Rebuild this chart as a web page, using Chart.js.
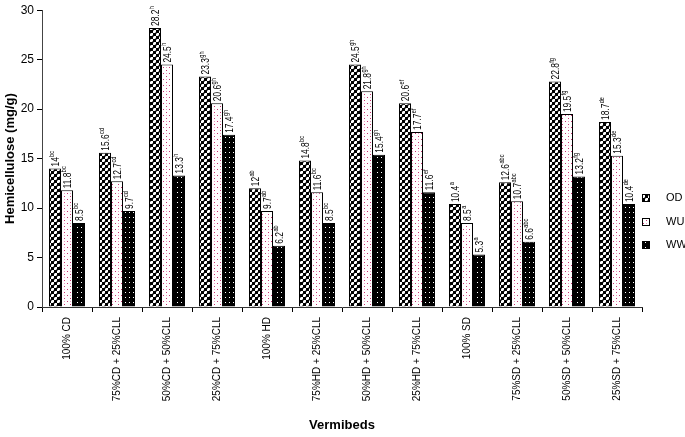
<!DOCTYPE html>
<html>
<head>
<meta charset="utf-8">
<script src="https://cdn.jsdelivr.net/npm/chart.js@4.4.1/dist/chart.umd.min.js"></script>
<style>
html,body{margin:0;padding:0;background:#fff;}
#wrap{width:685px;height:437px;position:relative;}
</style>
</head>
<body>
<div id="wrap"><canvas id="c" width="685" height="437"></canvas></div>
<script>
const categories = ["100% CD","75%CD + 25%CLL","50%CD + 50%CLL","25%CD + 75%CLL","100% HD","75%HD + 25%CLL","50%HD + 50%CLL","25%HD + 75%CLL","100% SD","75%SD + 25%CLL","50%SD + 50%CLL","25%SD + 75%CLL"];
const seriesNames = ["OD","WU","WW"];
const odValues = [14, 15.6, 28.2, 23.3, 12, 14.8, 24.5, 20.6, 10.4, 12.6, 22.8, 18.7];
const wuValues = [11.8, 12.7, 24.5, 20.6, 9.7, 11.6, 21.8, 17.7, 8.5, 10.7, 19.5, 15.3];
const wwValues = [8.5, 9.7, 13.3, 17.4, 6.2, 8.5, 15.4, 11.6, 5.3, 6.6, 13.2, 10.4];
const letters = ["bc","cd","h","gh","ab","bc","gh","ef","a","abc","fg","de"];
const yTicks = [0,5,10,15,20,25,30];

const FONT = '"Liberation Sans", Arial, sans-serif';

function makePattern(w, h, draw) {
  const c = document.createElement('canvas');
  c.width = w; c.height = h;
  const x = c.getContext('2d');
  draw(x);
  return document.getElementById('c').getContext('2d').createPattern(c, 'repeat');
}
const odPattern = makePattern(6, 6, x => {
  x.fillStyle = '#fff'; x.fillRect(0,0,6,6);
  x.fillStyle = '#000'; x.fillRect(0,0,3,3); x.fillRect(3,3,3,3);
  x.fillStyle = '#888'; x.fillRect(3,0,1,1); x.fillRect(5,2,1,1); x.fillRect(0,3,1,1); x.fillRect(2,5,1,1);
});
const wuPattern = makePattern(6, 6, x => {
  x.fillStyle = '#fff'; x.fillRect(0,0,6,6);
  x.fillStyle = '#c83070'; x.fillRect(1,1,1,1); x.fillRect(4,4,1,1);
  x.fillStyle = '#e8a0c0'; x.fillRect(4,1,1,1);
});
const wwPattern = makePattern(4, 5, x => {
  x.fillStyle = '#000'; x.fillRect(0,0,4,5);
  x.fillStyle = '#fff'; x.fillRect(1,2,1,1);
});
const patterns = [odPattern, wuPattern, wwPattern];

const labelPlugin = {
  id: 'barLabels',
  afterDatasetsDraw(chart) {
    const ctx = chart.ctx;
    chart.data.datasets.forEach((ds, i) => {
      const meta = chart.getDatasetMeta(i);
      meta.data.forEach((bar, j) => {
        const v = String(ds.data[j]);
        ctx.save();
        ctx.translate(bar.x + 1, bar.y - 2);
        ctx.rotate(-Math.PI / 2);
        ctx.scale(0.8, 1);
        ctx.fillStyle = '#000';
        ctx.textAlign = 'left';
        ctx.textBaseline = 'middle';
        ctx.font = '10.5px ' + FONT;
        ctx.fillText(v, 0, 0);
        const w = ctx.measureText(v).width;
        ctx.font = '7px ' + FONT;
        ctx.fillText(letters[j], w + 0.5, -4);
        ctx.restore();
      });
    });
  }
};
const legendPlugin = {
  id: 'customLegend',
  afterDraw(chart) {
    const ctx = chart.ctx;
    const ys = [198, 222, 245];
    seriesNames.forEach((n, i) => {
      ctx.save();
      ctx.fillStyle = patterns[i];
      ctx.fillRect(642, ys[i] - 4, 7, 7);
      ctx.strokeStyle = '#000';
      ctx.lineWidth = 1;
      ctx.strokeRect(642.5, ys[i] - 3.5, 7, 7);
      ctx.fillStyle = '#000';
      ctx.font = '11px ' + FONT;
      ctx.textBaseline = 'middle';
      ctx.textAlign = 'left';
      ctx.fillText(n, 666, ys[i]);
      ctx.restore();
    });
  }
};

const values = [odValues, wuValues, wwValues];
new Chart(document.getElementById('c'), {
  type: 'bar',
  data: {
    labels: categories,
    datasets: seriesNames.map((n, i) => ({
      label: n,
      data: values[i],
      backgroundColor: patterns[i],
      borderColor: '#000',
      borderWidth: 1,
      categoryPercentage: 0.72,
      barPercentage: 1.0
    }))
  },
  options: {
    responsive: false,
    animation: false,
    layout: { padding: { top: 10, right: 43, bottom: 0, left: 0 } },
    plugins: { legend: { display: false }, tooltip: { enabled: false } },
    scales: {
      x: {
        afterFit(s) { s.height = 130; },
        grid: { display: true, offset: true, drawOnChartArea: false, drawTicks: true, tickLength: 5, color: '#000' },
        border: { display: true, color: '#333', width: 1 },
        ticks: { color: '#000', font: { family: FONT, size: 10 }, minRotation: 90, maxRotation: 90, autoSkip: false, padding: 5 },
        title: { display: true, text: 'Vermibeds', color: '#000', font: { family: FONT, size: 13, weight: 'bold' }, padding: { top: 4, bottom: 4 } }
      },
      y: {
        min: 0, max: 30,
        afterFit(s) { s.width = 42; },
        afterBuildTicks(s) { s.ticks = yTicks.map(v => ({ value: v })); },
        grid: { display: true, drawOnChartArea: false, drawTicks: true, tickLength: 5, color: '#000' },
        border: { display: true, color: '#444', width: 1 },
        ticks: { color: '#000', font: { family: FONT, size: 12 }, padding: 3 },
        title: { display: true, text: 'Hemicellulose (mg/g)', color: '#000', font: { family: FONT, size: 13, weight: 'bold' }, padding: { top: 3, bottom: 3 } }
      }
    }
  },
  plugins: [labelPlugin, legendPlugin]
});
</script>
</body>
</html>
